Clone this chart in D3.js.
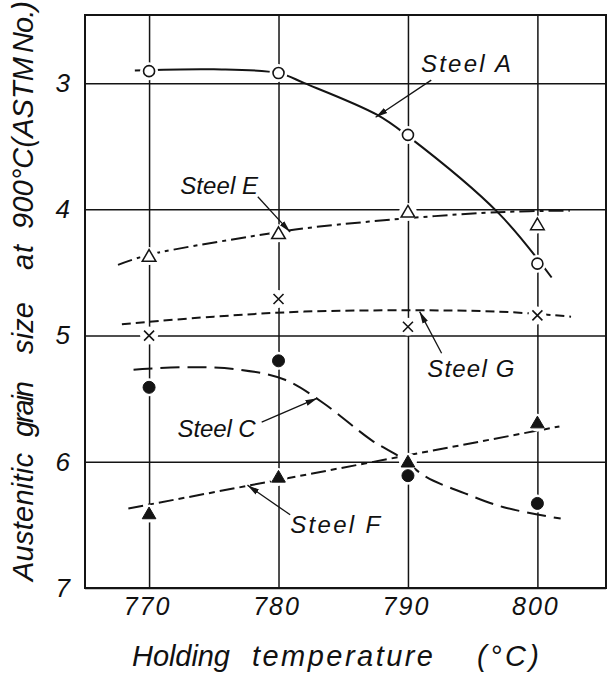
<!DOCTYPE html>
<html>
<head>
<meta charset="utf-8">
<script src="https://cdn.jsdelivr.net/npm/d3@7"></script>
<style>
  html, body { margin: 0; padding: 0; background: #fff; }
  svg { display: block; }
  text { font-family: "Liberation Sans", Arial, sans-serif; font-style: italic; fill: #111; }
</style>
</head>
<body>
<svg id="chart" width="608" height="675"></svg>
<script>
// ---------- data ----------
const xTicks = [770, 780, 790, 800];
const yTicks = [3, 4, 5, 6, 7];
const temps = [770, 780, 790, 800];

// measured grain sizes (ASTM No.)
const steelA = [2.905, 2.92, 3.41, 4.43];
const steelE = [4.37, 4.19, 4.02, 4.12];
const steelG = [5.00, 4.71, 4.93, 4.84];
const steelC = [5.41, 5.20, 6.11, 6.33];
const steelF = [6.41, 6.12, 6.00, 5.69];

// hand-drawn trend curves [temperature, grain size]
const curveA = [[768.9, 2.90], [775, 2.89], [780, 2.92], [782, 3.00], [787.6, 3.25], [790, 3.42], [797, 4.03], [801.1, 4.54]];
const curveE = [[767.6, 4.44], [770, 4.36], [780, 4.18], [782, 4.15], [790, 4.07], [797.5, 4.02], [802.5, 4.01]];
const curveG = [[767.9, 4.91], [775, 4.85], [782, 4.81], [790, 4.80], [797, 4.81], [802.6, 4.85]];
const curveC = [[768.8, 5.27], [773, 5.25], [777, 5.27], [780.5, 5.35], [783.4, 5.53], [787.2, 5.83], [789.5, 5.97], [791.4, 6.12], [794.4, 6.25], [797.4, 6.36], [801.8, 6.45]];
const curveF = [[768.4, 6.37], [801.7, 5.72]];

const labels = ["Steel A", "Steel E", "Steel G", "Steel C", "Steel F"];

// ---------- layout ----------
const W = 608, H = 675;
const L = 85, R = 606, T = 15, B = 588;
const svg = d3.select("#chart");

const x = d3.scaleLinear().domain([765.05, 805.3]).range([L, R]);
const y = d3.scaleLinear().domain([2.46, 7]).range([T, B]);

const ink = "#141414";

// grid + ticks
const gx = svg.append("g").attr("transform", `translate(0,${B})`)
  .call(d3.axisBottom(x).tickValues(xTicks).tickSize(-(B - T)).tickPadding(9).tickFormat(d3.format("d")));
gx.select(".domain").remove();
gx.selectAll(".tick line").attr("stroke", ink).attr("stroke-width", 1.5);
gx.selectAll(".tick text").attr("font-size", 25).attr("letter-spacing", 2).attr("dx", -2)
  .style("font-family", '"Liberation Sans", Arial, sans-serif').attr("fill", ink);

const gy = svg.append("g").attr("transform", `translate(${L},0)`)
  .call(d3.axisLeft(y).tickValues(yTicks).tickSize(-(R - L)).tickPadding(15).tickFormat(d3.format("d")));
gy.select(".domain").remove();
gy.selectAll(".tick line").attr("stroke", ink).attr("stroke-width", 1.5);
gy.selectAll(".tick text").attr("font-size", 26)
  .style("font-family", '"Liberation Sans", Arial, sans-serif').attr("fill", ink);

// frame
svg.append("rect").attr("x", L).attr("y", T).attr("width", R - L).attr("height", B - T)
  .attr("fill", "none").attr("stroke", ink).attr("stroke-width", 2);

// curves
const line = d3.line().x(d => x(d[0])).y(d => y(d[1])).curve(d3.curveCatmullRom.alpha(0.5));
const curves = [
  { pts: curveA, dash: null },
  { pts: curveE, dash: "15,5,4,5" },
  { pts: curveG, dash: "9,5" },
  { pts: curveC, dash: "19,8" },
  { pts: curveF, dash: "15,5,6,5" }
];
svg.append("g").selectAll("path").data(curves).join("path")
  .attr("d", d => line(d.pts))
  .attr("fill", "none").attr("stroke", ink).attr("stroke-width", 2)
  .attr("stroke-dasharray", d => d.dash);

// markers
const series = [
  { vals: steelA, type: "circle", filled: false },
  { vals: steelE, type: "triangle", filled: false },
  { vals: steelG, type: "cross", filled: false },
  { vals: steelC, type: "circle", filled: true },
  { vals: steelF, type: "triangle", filled: true }
];
const pts = [];
series.forEach(s => s.vals.forEach((v, i) => pts.push({ t: temps[i], v, type: s.type, filled: s.filled })));

// white halos (gaps in lines around markers)
svg.append("g").selectAll("circle").data(pts).join("circle")
  .attr("cx", d => x(d.t)).attr("cy", d => y(d.v)).attr("r", 9).attr("fill", "#fff");

const mk = svg.append("g");
pts.forEach(d => {
  const cx = x(d.t), cy = y(d.v);
  if (d.type === "circle") {
    mk.append("circle").attr("cx", cx).attr("cy", cy).attr("r", d.filled ? 6 : 5.5)
      .attr("fill", d.filled ? ink : "#fff").attr("stroke", ink).attr("stroke-width", d.filled ? 1 : 1.6);
  } else if (d.type === "triangle") {
    const s = 6.5;
    mk.append("path").attr("d", `M${cx},${cy - s}L${cx + s * 1.05},${cy + s * 0.8}L${cx - s * 1.05},${cy + s * 0.8}Z`)
      .attr("fill", d.filled ? ink : "#fff").attr("stroke", ink).attr("stroke-width", d.filled ? 1 : 1.5)
      .attr("stroke-linejoin", "miter");
  } else {
    const s = 5;
    mk.append("path").attr("d", `M${cx - s},${cy - s}L${cx + s},${cy + s}M${cx + s},${cy - s}L${cx - s},${cy + s}`)
      .attr("stroke", ink).attr("stroke-width", 1.6);
  }
});

// annotation layout (data units)
const annoPos = [
  { t: 791.0, v: 2.913, len: 90, from: [791.8, 2.976], to: [787.5, 3.27] },
  { t: 772.4, v: 3.88, len: 78, from: [778.4, 3.90], to: [780.9, 4.18] },
  { t: 791.5, v: 5.33, len: 87, from: [792.6, 5.14], to: [790.9, 4.81] },
  { t: 772.2, v: 5.805, len: 78, from: [778.7, 5.686], to: [783.0, 5.496] },
  { t: 780.9, v: 6.566, len: 90, from: [780.9, 6.42], to: [777.6, 6.185] }
];

svg.append("defs").append("marker")
  .attr("id", "ah").attr("viewBox", "0 0 12 8").attr("refX", 12).attr("refY", 4)
  .attr("markerWidth", 12).attr("markerHeight", 8).attr("markerUnits", "userSpaceOnUse")
  .attr("orient", "auto")
  .append("path").attr("d", "M0,1L12,4L0,7Z").attr("fill", ink);

const ag = svg.append("g");
annoPos.forEach((a, i) => {
  ag.append("text").attr("x", x(a.t)).attr("y", y(a.v))
    .attr("font-size", 24).attr("textLength", a.len).attr("lengthAdjust", "spacing")
    .text(labels[i]);
  ag.append("line")
    .attr("x1", x(a.from[0])).attr("y1", y(a.from[1]))
    .attr("x2", x(a.to[0])).attr("y2", y(a.to[1]))
    .attr("stroke", ink).attr("stroke-width", 1.3).attr("marker-end", "url(#ah)");
});

// x axis title (words placed separately to mimic hand lettering)
const xTitle = [
  { w: "Holding", x0: 132, len: 98 },
  { w: "temperature", x0: 252, len: 181 },
  { w: "(°C)", x0: 477, len: 62 }
];
svg.append("g").selectAll("text").data(xTitle).join("text")
  .attr("x", d => d.x0).attr("y", 666).attr("font-size", 29)
  .attr("textLength", d => d.len).attr("lengthAdjust", "spacing")
  .text(d => d.w);

// y axis title (rotated)
const yTitle = [
  { w: "Austenitic", y0: 581, len: 128 },
  { w: "grain", y0: 437, len: 56 },
  { w: "size", y0: 354, len: 52 },
  { w: "at", y0: 270, len: 25 },
  { w: "900°C(ASTM", y0: 229, len: 172 },
  { w: "No.)", y0: 53, len: 52 }
];
svg.append("g").attr("transform", "translate(33,0) rotate(-90)")
  .selectAll("text").data(yTitle).join("text")
  .attr("x", d => -d.y0).attr("y", 0).attr("font-size", 29)
  .attr("textLength", d => d.len).attr("lengthAdjust", "spacing")
  .text(d => d.w);
</script>
</body>
</html>
